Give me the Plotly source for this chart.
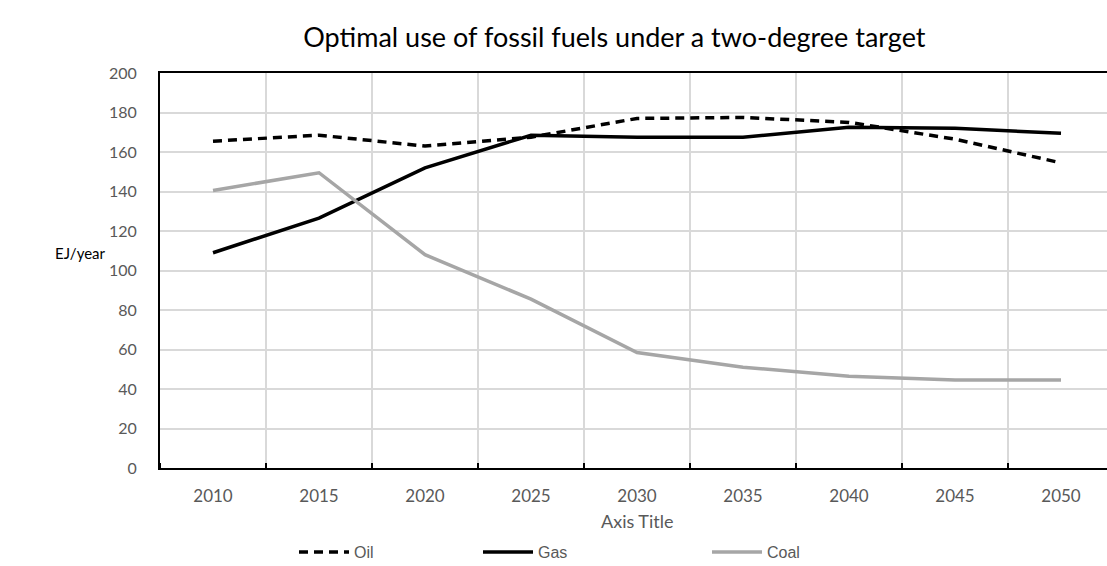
import plotly.graph_objects as go

years = ["2010", "2015", "2020", "2025", "2030", "2035", "2040", "2045", "2050"]
oil = [165.5, 168.5, 163, 167.5, 177, 177.5, 175, 166.5, 154.5]
gas = [109, 126.5, 152, 168.5, 167.5, 167.5, 172.5, 172, 169.5]
coal = [140.5, 149.5, 108, 85.5, 58.5, 51, 46.5, 44.5, 44.5]

xpos = list(range(len(years)))

fig = go.Figure()
fig.add_trace(go.Scatter(x=xpos, y=oil, name="Oil", mode="lines", legend="legend",
                         line=dict(color="black", width=3.5, dash="9px,6px")))
fig.add_trace(go.Scatter(x=xpos, y=gas, name="Gas", mode="lines", legend="legend2",
                         line=dict(color="black", width=3.5)))
fig.add_trace(go.Scatter(x=xpos, y=coal, name="Coal", mode="lines", legend="legend3",
                         line=dict(color="#a6a6a6", width=3.5)))

xtick_font = dict(family="Lato, Open Sans, sans-serif", size=17, color="#595959")
ytick_font = dict(family="Lato, Open Sans, sans-serif", size=16, color="#595959")
legend_font = dict(family="Liberation Sans, Arial, sans-serif", size=16, color="#595959")


def legend_at(xpix):
    return dict(orientation="h", xref="container", x=xpix / 1107, xanchor="left",
                yref="container", y=0.0247, yanchor="middle",
                font=legend_font, itemwidth=50, bgcolor="rgba(0,0,0,0)",
                borderwidth=0)


fig.update_layout(
    width=1107, height=566,
    plot_bgcolor="white", paper_bgcolor="white",
    margin=dict(l=160, r=0, t=73, b=98, autoexpand=False),
    title=dict(text="Optimal use of fossil fuels under a two-degree target",
               xref="container", x=0.555, xanchor="center",
               yref="container", y=0.933, yanchor="middle",
               font=dict(family="Lato, Open Sans, sans-serif", size=27, color="black")),
    xaxis=dict(
        range=[-0.5, 8.434],
        tickvals=xpos, ticktext=years, tickfont=xtick_font,
        showgrid=False, zeroline=False, automargin=False,
        showline=True, linecolor="black", linewidth=2, mirror=True,
        ticks="", ticklabelstandoff=12,
        minor=dict(tick0=0.5, dtick=1, showgrid=True, gridcolor="#d9d9d9", gridwidth=2,
                   ticks="inside", ticklen=5, tickcolor="black", tickwidth=1.5),
        fixedrange=True,
    ),
    yaxis=dict(
        range=[0, 200], dtick=20, tickfont=ytick_font, automargin=False,
        showgrid=True, gridcolor="#d9d9d9", gridwidth=2, zeroline=False,
        showline=True, linecolor="black", linewidth=2, mirror=False,
        ticks="", ticklabelstandoff=18, fixedrange=True,
    ),
    legend=legend_at(294),
    legend2=legend_at(478),
    legend3=legend_at(707),
    showlegend=True,
)

fig.add_annotation(text="Axis Title", xref="paper", yref="paper", x=0.504, y=-0.134,
                   xanchor="center", yanchor="middle", showarrow=False,
                   font=dict(family="Lato, Open Sans, sans-serif", size=18, color="#595959"))
fig.add_annotation(text="EJ/year", xref="paper", yref="paper", x=-0.055, y=0.545,
                   xanchor="right", yanchor="middle", showarrow=False,
                   font=dict(family="Lato, Open Sans, sans-serif", size=15, color="black"))

fig.write_html("out.html", config={"displayModeBar": False},
               post_script="document.body.style.margin='0px';")
